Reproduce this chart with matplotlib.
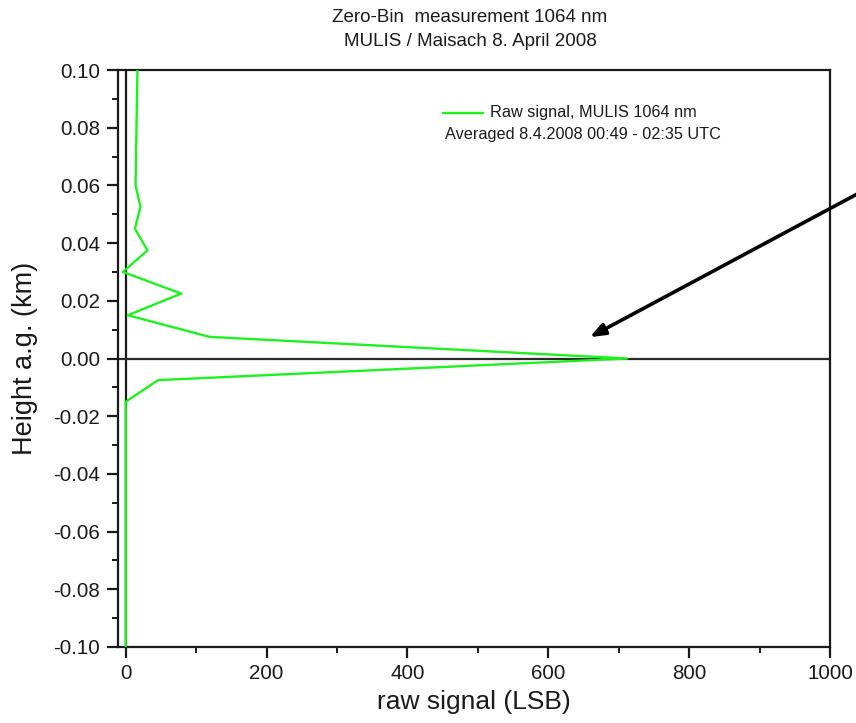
import matplotlib
matplotlib.use("Agg")
import matplotlib.pyplot as plt
from matplotlib.ticker import MultipleLocator, FuncFormatter
from matplotlib.lines import Line2D

plt.rcParams["font.family"] = ["Liberation Sans", "DejaVu Sans"]
plt.rcParams["axes.unicode_minus"] = False

# Zero-bin profile: height above ground (km) vs raw signal (LSB), 7.5 m bins
height_km = [0.105, 0.0975, 0.090, 0.0825, 0.075, 0.0675, 0.060, 0.0525,
             0.045, 0.0375, 0.030, 0.0225, 0.015, 0.0075, 0.0, -0.0075,
             -0.015, -0.0225, -0.030, -0.045, -0.060, -0.075, -0.090, -0.105]
raw_signal = [17, 16.5, 16, 15.5, 15, 14.5, 14, 21,
              13, 31, -4, 79, 3, 119, 712, 46,
              0, 0, 0, 0, 0, 0, 0, 0]

title_lines = ["Zero-Bin  measurement 1064 nm", "MULIS / Maisach 8. April 2008"]
legend_line1 = "Raw signal, MULIS 1064 nm"
legend_line2 = "Averaged 8.4.2008 00:49 - 02:35 UTC"

fig = plt.figure(figsize=(8.56, 7.23), dpi=100)
ax = fig.add_axes([118.3 / 856, 1 - 647 / 723, (830 - 118.3) / 856, (647 - 70) / 723])

ink = "#1a1a1a"
green = "#1ff01f"

# reference lines at zero signal and zero height
ax.axvline(0, color=ink, lw=1.6, zorder=2)
ax.axhline(0, color="#2a2a2a", lw=1.6, zorder=2)

ax.plot(raw_signal, height_km, color=green, lw=1.7, zorder=3)

ax.set_xlim(-10.5, 1000)
ax.set_ylim(-0.10, 0.10)

ax.xaxis.set_major_locator(MultipleLocator(200))
ax.xaxis.set_minor_locator(MultipleLocator(100))
ax.yaxis.set_major_locator(MultipleLocator(0.02))
ax.yaxis.set_minor_locator(MultipleLocator(0.01))
ax.yaxis.set_major_formatter(
    FuncFormatter(lambda v, pos: "%.2f" % (0.0 if abs(v) < 1e-9 else v)))

for side in ["top", "right", "bottom", "left"]:
    ax.spines[side].set_linewidth(1.6)
    ax.spines[side].set_color(ink)

ax.tick_params(which="major", direction="out", length=8, width=1.6,
               colors=ink, labelsize=14.8, pad=5)
ax.tick_params(which="minor", direction="out", length=4, width=1.4, colors=ink)
ax.tick_params(top=False, right=False)
ax.tick_params(axis="x", which="major", pad=4)

ax.set_xlabel("raw signal (LSB)", fontsize=19, color=ink, labelpad=5)
ax.set_ylabel("Height a.g. (km)", fontsize=19.5, color=ink, labelpad=11)

fig.text(0.549, 1 - 18 / 723, title_lines[0], ha="center", va="center",
         fontsize=13.5, color=ink)
fig.text(0.549, 1 - 42 / 723, title_lines[1], ha="center", va="center",
         fontsize=13.5, color=ink)

# legend entry drawn by hand
ax.add_line(Line2D([(443 - 118.3) / 711.7, (483 - 118.3) / 711.7],
                   [(647 - 113) / 577, (647 - 113) / 577],
                   transform=ax.transAxes, color=green, lw=1.7))
ax.text((490 - 118.3) / 711.7, (647 - 113) / 577, legend_line1,
        transform=ax.transAxes, ha="left", va="center", fontsize=11.7, color=ink)
ax.text((445 - 118.3) / 711.7, (647 - 135) / 577, legend_line2,
        transform=ax.transAxes, ha="left", va="center", fontsize=11.7, color=ink)

# arrow pointing at the zero bin
ax.annotate("", xy=(659, 0.0074), xytext=(1040, 0.0572),
            xycoords="data", textcoords="data", annotation_clip=False,
            arrowprops=dict(arrowstyle="-|>,head_length=0.9,head_width=0.35",
                            color="black", lw=2.6, shrinkA=0, shrinkB=0))

fig.savefig("out.png", dpi=100)
